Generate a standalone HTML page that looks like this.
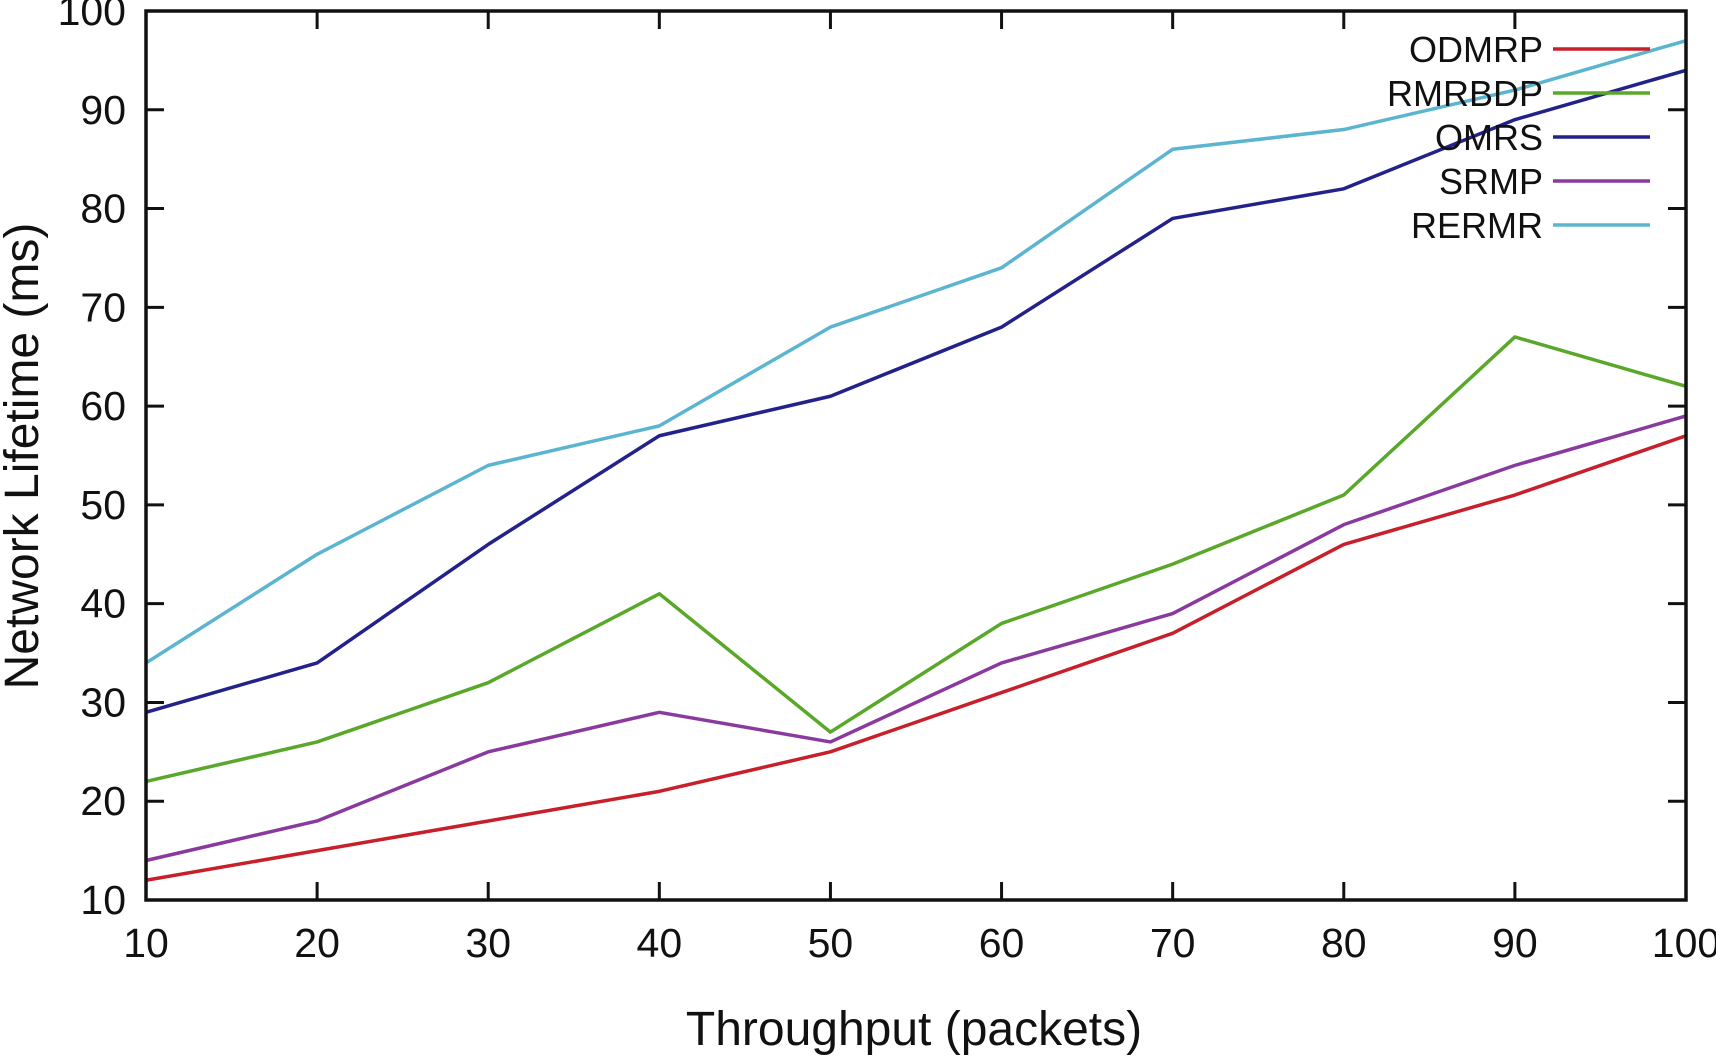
<!DOCTYPE html>
<html><head><meta charset="utf-8"><style>
html,body{margin:0;padding:0;background:#fff;}
svg{display:block;font-family:"Liberation Sans",Arial,sans-serif;}
</style></head><body>
<svg id="chart" width="1716" height="1056" viewBox="0 0 1716 1056"></svg>
<script>
const categories = [10,20,30,40,50,60,70,80,90,100];
const yTicks = [10,20,30,40,50,60,70,80,90,100];
const seriesNames = ["ODMRP","RMRBDP","OMRS","SRMP","RERMR"];
const odmrp  = [12,15,18,21,25,31,37,46,51,57];
const rmrbdp = [22,26,32,41,27,38,44,51,67,62];
const omrs   = [29,34,46,57,61,68,79,82,89,94];
const srmp   = [14,18,25,29,26,34,39,48,54,59];
const rermr  = [34,45,54,58,68,74,86,88,92,97];

const NS = "http://www.w3.org/2000/svg";
const svg = document.getElementById('chart');
const L=146, R=1686, T=11, B=900;
const xs = v => L + (v-10)/90*(R-L);
const ys = v => B - (v-10)/90*(B-T);
function mk(tag, attrs, parent){const e=document.createElementNS(NS,tag);for(const k in attrs)e.setAttribute(k,attrs[k]);(parent||svg).appendChild(e);return e;}

const colors = ["#c8202a","#5aa82a","#23228a","#8a3a9e","#5bb5d0"];
const data = [odmrp, rmrbdp, omrs, srmp, rermr];

data.forEach((s,i)=>{
  const p = mk('polyline',{points:s.map((v,j)=>xs(categories[j])+','+ys(v)).join(' '),fill:'none',stroke:colors[i],'stroke-width':3.5,'stroke-linejoin':'round'});
  
  
});

const tg = mk('g',{stroke:'#111','stroke-width':3});


yTicks.forEach(v=>{const y=ys(v);mk('line',{x1:L,y1:y,x2:L+18,y2:y},tg);mk('line',{x1:R,y1:y,x2:R-18,y2:y},tg);});
categories.forEach(v=>{const x=xs(v);mk('line',{x1:x,y1:B,x2:x,y2:B-18},tg);mk('line',{x1:x,y1:T,x2:x,y2:T+18},tg);});
const frame = mk('rect',{x:L,y:T,width:R-L,height:B-T,fill:'none',stroke:'#111','stroke-width':3.5});



yTicks.forEach(v=>{
  const t=mk('text',{x:126,y:ys(v)+14,'text-anchor':'end','font-size':41,fill:'#111'});
  t.textContent=v;
  
  
});
categories.forEach(v=>{
  const t=mk('text',{x:xs(v),y:957,'text-anchor':'middle','font-size':41,fill:'#111'});
  t.textContent=v;
  
  
});

const xt=mk('text',{x:914,y:1045,'text-anchor':'middle','font-size':48,fill:'#111'});
xt.textContent='Throughput (packets)';


const yt=mk('text',{x:0,y:0,'text-anchor':'middle','font-size':48,fill:'#111',transform:'translate(38,456) rotate(-90)'});
yt.textContent='Network Lifetime (ms)';



const lg = mk('g',{});


seriesNames.forEach((n,i)=>{
  const y = 49 + i*44;
  const g = mk('g',{},lg);
  
  
  const t=mk('text',{x:1543,y:y+13,'text-anchor':'end','font-size':36,fill:'#111'},g);
  t.textContent=n;
  mk('line',{x1:1553,y1:y,x2:1650,y2:y,stroke:colors[i],'stroke-width':3.5},g);
});
</script>
</body></html>
